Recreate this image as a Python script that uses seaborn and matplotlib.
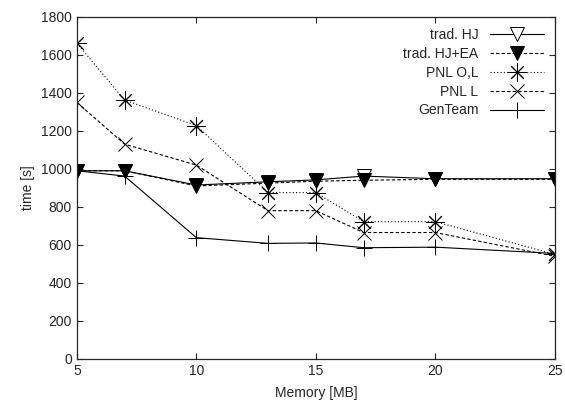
import matplotlib
matplotlib.use("Agg")
import matplotlib.pyplot as plt
import seaborn as sns

# memòria [MB]
memory = [5, 7, 10, 13, 15, 17, 20, 25]

# temps [s] per a cada mètode
trad_hj = [990, 990, 915, 932, 942, 962, 948, 948]
trad_hj_ea = [990, 990, 910, 925, 935, 940, 945, 945]
pnl_ol = [1662, 1362, 1228, 875, 875, 722, 722, 550]
pnl_l = [1350, 1130, 1020, 780, 780, 665, 665, 540]
genteam = [990, 962, 638, 608, 610, 585, 588, 555]

labels = ["trad. HJ", "trad. HJ+EA", "PNL O,L", "PNL L", "GenTeam"]

sns.set_style("ticks")
plt.rcParams["font.family"] = ["Liberation Sans", "DejaVu Sans"]

fig = plt.figure(figsize=(5.65, 4.01), dpi=100)
ax = fig.add_axes([0.136, 0.105, 0.846, 0.853])

estils = [
    dict(marker="v", linestyle="-", markersize=10, markerfacecolor="white"),
    dict(marker="v", linestyle=(0, (3, 2)), markersize=10, markerfacecolor="black"),
    dict(marker=(8, 2, 0), linestyle=(0, (1, 2)), markersize=13),
    dict(marker="x", linestyle=(0, (3, 2)), markersize=10),
    dict(marker="+", linestyle="-", markersize=12),
]

for serie, nom, estil in zip([trad_hj, trad_hj_ea, pnl_ol, pnl_l, genteam], labels, estils):
    sns.lineplot(x=memory, y=serie, ax=ax, color="black", linewidth=0.8,
                 markeredgecolor="black", markeredgewidth=0.7, label=nom, **estil)

ax.set_xlim(5, 25)
ax.set_ylim(0, 1800)
ax.set_xticks([5, 10, 15, 20, 25])
ax.set_yticks(range(0, 1801, 200))
ax.tick_params(direction="in", top=True, right=True, labelsize=10, length=4, width=0.8)
for s in ax.spines.values():
    s.set_linewidth(0.9)
ax.set_xlabel("Memory [MB]", fontsize=10, labelpad=6)
ax.set_ylabel("time [s]", fontsize=10)

ax.legend(loc="upper right", frameon=False, markerfirst=False, fontsize=10,
          handlelength=3.9, labelspacing=0.35, borderaxespad=0.4)

fig.savefig("out.png", dpi=100)
